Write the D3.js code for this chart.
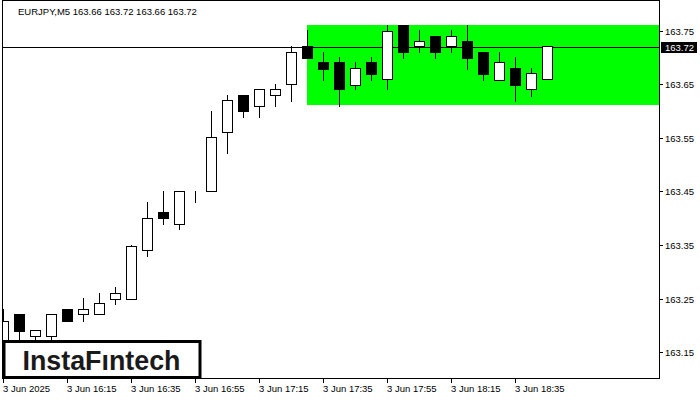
<!DOCTYPE html>
<html>
<head>
<meta charset="utf-8">
<script src="https://cdn.jsdelivr.net/npm/d3@7"></script>
<style>
  html, body { margin: 0; padding: 0; background: #fff; }
  svg { display: block; }
  text { font-family: "Liberation Sans", Arial, sans-serif; }
</style>
</head>
<body>
<svg id="chart" width="700" height="400"></svg>
<script>
// ---- data (EURJPY, M5, 3 Jun 2025) ----
const times = ["15:55","16:00","16:05","16:10","16:15","16:20","16:25","16:30","16:35","16:40","16:45","16:50",
               "16:55","17:00","17:05","17:10","17:15","17:20","17:25","17:30","17:35","17:40","17:45","17:50",
               "17:55","18:00","18:05","18:10","18:15","18:20","18:25","18:30","18:35","18:40","18:45"];
const opens  = [163.170,163.221,163.180,163.180,163.230,163.221,163.221,163.250,163.250,163.340,163.411,163.390,
                163.441,163.450,163.560,163.629,163.610,163.629,163.650,163.721,163.691,163.691,163.649,163.691,
                163.659,163.760,163.721,163.740,163.721,163.730,163.710,163.658,163.680,163.640,163.659];
const highs  = [163.230,163.221,163.191,163.221,163.230,163.251,163.260,163.272,163.350,163.430,163.450,163.450,
                163.450,163.600,163.630,163.629,163.640,163.650,163.721,163.751,163.710,163.701,163.691,163.701,
                163.760,163.760,163.751,163.740,163.751,163.760,163.710,163.710,163.701,163.680,163.721];
const lows   = [163.160,163.165,163.170,163.170,163.209,163.209,163.221,163.240,163.250,163.330,163.390,163.379,
                163.430,163.450,163.521,163.589,163.589,163.610,163.619,163.699,163.658,163.610,163.640,163.658,
                163.640,163.699,163.709,163.699,163.709,163.679,163.658,163.658,163.619,163.628,163.659];
const closes = [163.209,163.190,163.191,163.221,163.209,163.230,163.241,163.260,163.349,163.400,163.400,163.450,
                163.441,163.551,163.620,163.599,163.640,163.640,163.709,163.699,163.679,163.640,163.680,163.669,
                163.750,163.709,163.730,163.709,163.739,163.699,163.669,163.691,163.649,163.670,163.721];
const priceTicks = [163.15, 163.25, 163.35, 163.45, 163.55, 163.65, 163.75];
const timeTickIdx = [0, 4, 8, 12, 16, 20, 24, 28, 32];
const timeTickLabels = ["3 Jun 2025","3 Jun 16:15","3 Jun 16:35","3 Jun 16:55","3 Jun 17:15",
                        "3 Jun 17:35","3 Jun 17:55","3 Jun 18:15","3 Jun 18:35"];
const symbolTitle = "EURJPY,M5  163.66 163.72 163.66 163.72";
const currentPrice = 163.72;
const zoneTop = 163.7603, zoneBottom = 163.612, zoneStartIdx = 19;
const logoText = "InstaF\u0131ntech";

// ---- layout ----
const plot = { left: 2, top: 0, right: 659, bottom: 378 };
const svg = d3.select("#chart");

const x = d3.scaleLinear().domain([0, 1]).range([3, 19]);
const y = d3.scaleLinear().domain([163.15, 163.75]).range([352.3, 30.5]);
const Y = v => Math.round(y(v));

svg.append("defs").append("clipPath").attr("id", "plotclip")
  .append("rect").attr("x", plot.left + 0.5).attr("y", plot.top + 0.5)
  .attr("width", plot.right - plot.left).attr("height", plot.bottom - plot.top);

const g = svg.append("g").attr("clip-path", "url(#plotclip)");

// green zone
g.append("rect")
  .attr("x", x(zoneStartIdx))
  .attr("y", Y(zoneTop))
  .attr("width", plot.right - x(zoneStartIdx))
  .attr("height", Y(zoneBottom) - Y(zoneTop))
  .attr("fill", "#00ff00");

// current price line
g.append("line")
  .attr("x1", plot.left).attr("x2", plot.right)
  .attr("y1", Y(currentPrice) + 0.5).attr("y2", Y(currentPrice) + 0.5)
  .attr("stroke", "#000").attr("stroke-width", 1);

// candles
const data = times.map((t, i) => ({ t, i, o: opens[i], h: highs[i], l: lows[i], c: closes[i] }));
const cg = g.append("g").selectAll("g").data(data).join("g");
cg.append("line")
  .attr("x1", d => Math.round(x(d.i)) + 0.5).attr("x2", d => Math.round(x(d.i)) + 0.5)
  .attr("y1", d => Y(d.h)).attr("y2", d => Y(d.l) + 1)
  .attr("stroke", "#000").attr("stroke-width", 1);
cg.append("rect")
  .attr("x", d => Math.round(x(d.i)) - 4.5)
  .attr("width", 10)
  .attr("y", d => Y(Math.max(d.o, d.c)) + 0.5)
  .attr("height", d => Math.max(0, Y(Math.min(d.o, d.c)) - Y(Math.max(d.o, d.c))))
  .attr("fill", d => d.c >= d.o ? "#fff" : "#000")
  .attr("stroke", "#000").attr("stroke-width", 1);

// frame
svg.append("rect")
  .attr("x", plot.left + 0.5).attr("y", plot.top + 0.5)
  .attr("width", plot.right - plot.left).attr("height", plot.bottom - plot.top)
  .attr("fill", "none").attr("stroke", "#000").attr("stroke-width", 1);

// right price axis
const ya = svg.append("g");
priceTicks.forEach(p => {
  const yy = Y(p) + 0.5;
  ya.append("line").attr("x1", plot.right + 0.5).attr("x2", plot.right + 4)
    .attr("y1", yy).attr("y2", yy).attr("stroke", "#000");
  ya.append("text").attr("x", 665).attr("y", yy + 3.5)
    .attr("font-size", "9.5px").attr("fill", "#000").text(p.toFixed(2));
});
// current price label
const cpy = Y(currentPrice) + 0.5;
ya.append("rect").attr("x", 661).attr("y", cpy - 5.5).attr("width", 36).attr("height", 11).attr("fill", "#000");
ya.append("text").attr("x", 665).attr("y", cpy + 3.5)
  .attr("font-size", "9.5px").attr("fill", "#fff").text(currentPrice.toFixed(2));

// bottom time axis
const xa = svg.append("g");
timeTickIdx.forEach((idx, k) => {
  const xx = Math.round(x(idx)) + 0.5;
  xa.append("line").attr("x1", xx).attr("x2", xx)
    .attr("y1", plot.bottom + 0.5).attr("y2", plot.bottom + 5).attr("stroke", "#000");
  xa.append("text").attr("x", xx - 0.5).attr("y", 392)
    .attr("font-size", "9.5px").attr("fill", "#000").text(timeTickLabels[k]);
});

// title
svg.append("text").attr("x", 18).attr("y", 14.5)
  .attr("font-size", "9.5px").attr("fill", "#000").text(symbolTitle);

// logo box
svg.append("rect").attr("x", 4).attr("y", 341.5).attr("width", 196).attr("height", 36)
  .attr("fill", "#fff").attr("stroke", "#000").attr("stroke-width", 3);
svg.append("text").attr("x", 22.5).attr("y", 369.5)
  .attr("font-family", "'Noto Sans', 'Open Sans', sans-serif")
  .attr("font-size", "27px").attr("font-weight", 600).attr("fill", "#1a1a1a")
  .attr("textLength", 158).attr("lengthAdjust", "spacingAndGlyphs")
  .text(logoText);
</script>
</body>
</html>
